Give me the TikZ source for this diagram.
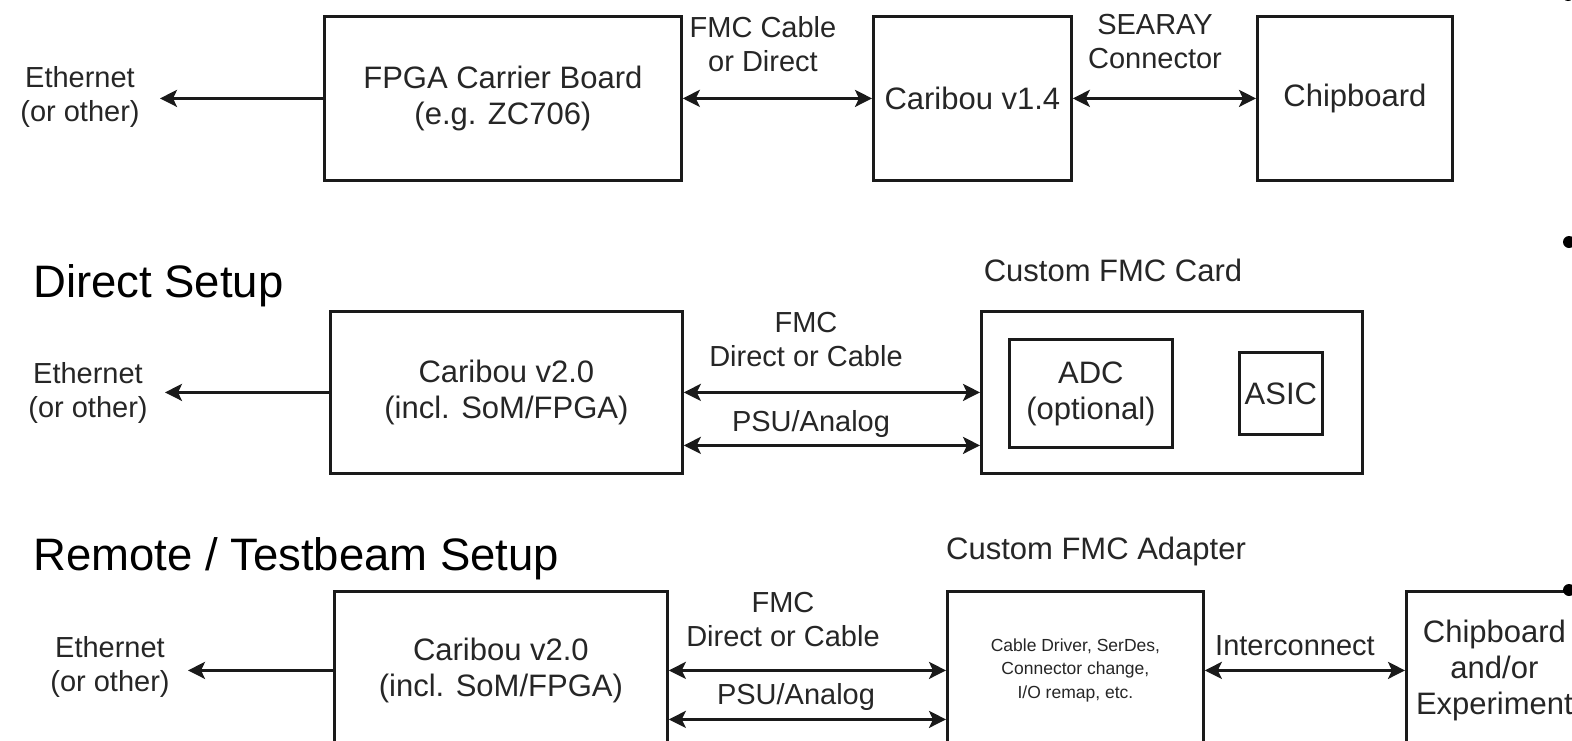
\documentclass[tikz,border=0pt]{standalone}
\usepackage{fontspec}
\setmainfont{Liberation Sans}
\usetikzlibrary{arrows.meta}
\definecolor{ink}{HTML}{262626}
\definecolor{edge}{HTML}{1A1A1A}
\begin{document}
\begin{tikzpicture}[x=1pt,y=-1pt,
  box/.style={draw=edge, line width=2.8pt, inner sep=0pt, anchor=north west},
  lbl/.style={font=\fontsize{31}{36}\selectfont, text=ink, align=center, inner sep=0pt},
  small/.style={font=\fontsize{29}{34}\selectfont, text=ink, align=center, inner sep=0pt},
  tiny/.style={font=\fontsize{17.5}{23.5}\selectfont, text=ink, align=center},
  title/.style={font=\fontsize{45.5}{50}\selectfont, text=black, inner sep=0pt, anchor=base west},
  tip/.tip={Stealth[length=17pt,width=17pt,inset=4pt]},
  arr/.style={draw=edge, line width=2.8pt, -tip},
  darr/.style={draw=edge, line width=2.8pt, tip-tip},
  bullet/.style={fill=black}
]
\useasboundingbox (0,0) rectangle (1572,740);
\clip (0,0) rectangle (1572,740);
\fill[white] (0,0) rectangle (1572,740);

% ---------- Row 1 ----------
\node[box, lbl, minimum width=357pt, minimum height=164pt] (fpga) at (323,15) {FPGA Carrier Board\\(e.g. ZC706)};
\node[box, lbl, minimum width=198pt, minimum height=164pt] (c14) at (872,15) {Caribou v1.4};
\node[box, lbl, minimum width=195pt, minimum height=164pt] (chip1) at (1256,15) {Chipboard};
\node[small] (eth1) at (80,97) {Ethernet\\(or other)};
\coordinate (eth1tip) at (160,97);
\draw[arr] (fpga.west) -- (fpga.west -| eth1tip);
\draw[darr] (fpga.east) -- (c14.west);
\draw[darr] (c14.east) -- (chip1.west);
\node[small] (lab1) at (763,44) {FMC Cable\\or Direct};
\node[small] (lab2) at (1155,42) {SEARAY\\Connector};

% ---------- Row 2 ----------
\node[title] (t2) at (33,297) {Direct Setup};
\node[box, lbl, minimum width=352pt, minimum height=162pt] (c20a) at (329,310) {Caribou v2.0\\(incl. SoM/FPGA)};
\node[box, minimum width=381pt, minimum height=162pt] (card) at (980,310) {};
\node[box, lbl, minimum width=163pt, minimum height=108pt] (adc) at (1008,338) {ADC\\(optional)};
\node[box, lbl, minimum width=83pt, minimum height=82pt] (asic) at (1238,351) {ASIC};
\node[lbl] (cardt) at (1113,270) {Custom FMC Card};
\node[small] (eth2) at (88,393) {Ethernet\\(or other)};
\coordinate (eth2tip) at (165,391);
\draw[arr] (c20a.west) -- (c20a.west -| eth2tip);
\draw[darr] (c20a.east) -- (card.west);
\draw[darr] ([yshift=-53pt]c20a.east) -- ([yshift=-53pt]card.west);
\node[small] (lab3) at (806,340) {FMC\\Direct or Cable};
\node[small] (lab4) at (811,424) {PSU/Analog};

% ---------- Row 3 ----------
\node[title] (t3) at (33,570) {Remote / Testbeam Setup};
\node[box, lbl, minimum width=333pt, minimum height=158pt] (c20b) at (333,590) {Caribou v2.0\\(incl. SoM/FPGA)};
\node[box, tiny, minimum width=256pt, minimum height=158pt] (adp) at (946,590) {Cable Driver, SerDes,\\Connector change,\\I/O remap, etc.};
\node[box, lbl, minimum width=176pt, minimum height=158pt] (chip3) at (1405,590) {Chipboard\\and/or\\Experiment};
\node[lbl] (adpt) at (1096,551) {Custom FMC Adapter};
\node[small] (eth3) at (110,667) {Ethernet\\(or other)};
\coordinate (eth3tip) at (188,669);
\draw[arr] (c20b.west) -- (c20b.west -| eth3tip);
\draw[darr] (c20b.east) -- (adp.west);
\draw[darr] ([yshift=-49pt]c20b.east) -- ([yshift=-49pt]adp.west);
\draw[darr] (adp.east) -- (chip3.west);
\node[small] (lab5) at (783,620) {FMC\\Direct or Cable};
\node[small] (lab6) at (796,697) {PSU/Analog};
\node[small] (lab7) at (1295,646) {Interconnect};

% ---------- slide bullets at the right edge ----------
\fill[bullet] (1568,-5) circle[radius=6pt];
\fill[bullet] (1569,242) circle[radius=6pt];
\fill[bullet] (1569,590) circle[radius=6pt];
\end{tikzpicture}
\end{document}
